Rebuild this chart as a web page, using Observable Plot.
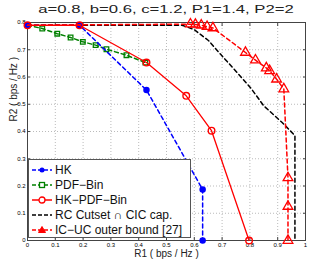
<!DOCTYPE html>
<html><head><meta charset="utf-8">
<script src="https://cdn.jsdelivr.net/npm/d3@7"></script>
<script src="https://cdn.jsdelivr.net/npm/@observablehq/plot@0.6"></script>
<style>
body{margin:0;background:#fff;font-family:"Liberation Sans",Arial,sans-serif;}
#wrap{position:relative;width:310px;height:263px;}
#title{position:absolute;left:66px;top:3px;width:200px;text-align:center;font-size:11.5px;color:#222;white-space:nowrap;transform:scaleX(1.45);transform-origin:center;}
#legend{position:absolute;left:28px;top:159px;width:163px;height:79px;background:#fff;border:1px solid #555;box-sizing:border-box;font-size:12px;color:#111;}
#legend .row{position:absolute;left:3px;height:14px;display:flex;align-items:center;}
#legend svg{display:block;}
#legend span{margin-left:2px;white-space:nowrap;}
</style></head><body>
<div id="wrap"><div id="chart"></div><div id="title"></div><div id="legend"></div></div>
<script>
const title = "a=0.8, b=0.6, c=1.2, P1=1.4, P2=2";
const xLabel = "R1 ( bps / Hz )";
const yLabel = "R2 ( bps / Hz )";
const xTicks = [0,0.1,0.2,0.3,0.4,0.5,0.6,0.7,0.8,0.9,1];
const yTicks = [0,0.1,0.2,0.3,0.4,0.5,0.6,0.7,0.8];

const hkR1 = [0, 0.187, 0.428, 0.630, 0.630];
const hkR2 = [0.790, 0.790, 0.552, 0.187, 0];

const pdfR1 = [0, 0.053, 0.107, 0.155, 0.199, 0.245, 0.284, 0.356, 0.424];
const pdfR2 = [0.790, 0.778, 0.759, 0.745, 0.729, 0.717, 0.702, 0.680, 0.653];

const hkpdfR1 = [0, 0.187, 0.428, 0.571, 0.662, 0.797];
const hkpdfR2 = [0.790, 0.790, 0.653, 0.531, 0.403, 0];

const rcR1 = [0, 0.556, 0.598, 0.652, 0.694, 0.748, 0.802, 0.850, 0.916, 0.962, 0.962];
const rcR2 = [0.790, 0.790, 0.775, 0.733, 0.684, 0.623, 0.561, 0.494, 0.433, 0.385, 0];

const icR1 = [0, 0.586, 0.604, 0.625, 0.646, 0.667, 0.784, 0.820, 0.859, 0.871, 0.896, 0.922, 0.937, 0.937, 0.937];
const icR2 = [0.790, 0.794, 0.793, 0.790, 0.785, 0.780, 0.690, 0.662, 0.633, 0.623, 0.592, 0.556, 0.230, 0.125, 0];
const icMarked = [false, true, true, true, true, true, true, true, true, true, true, true, true, true, true];

const names = ["HK", "PDF\u2212Bin", "HK\u2212PDF\u2212Bin", "RC Cutset \u2229 CIC cap.", "IC\u2212UC outer bound [27]"];

const zip = (a, b) => a.map((x, i) => ({x, y: b[i], i}));
const hk = zip(hkR1, hkR2), pdf = zip(pdfR1, pdfR2), hkpdf = zip(hkpdfR1, hkpdfR2), rc = zip(rcR1, rcR2), ic = zip(icR1, icR2);

const fmt = d => d === 0 ? "0" : d === 1 ? "1" : String(d);
const dash = "4,3";

const chart = Plot.plot({
  width: 310, height: 263,
  marginLeft: 27, marginRight: 5, marginTop: 22, marginBottom: 23,
  style: {fontFamily: "'Liberation Sans', Arial, sans-serif", background: "#fff", overflow: "visible"},
  x: {domain: [0, 1]},
  y: {domain: [0, 0.8]},
  marks: [
    Plot.gridX(xTicks, {stroke: "#bbb", strokeOpacity: 1, strokeDasharray: "1,2"}),
    Plot.gridY(yTicks, {stroke: "#bbb", strokeOpacity: 1, strokeDasharray: "1,2"}),
    Plot.axisX({ticks: xTicks, tickFormat: fmt, tickSize: -3, tickPadding: 5, fontSize: 6, label: null, stroke: "#444"}),
    Plot.axisX({ticks: xTicks, anchor: "top", tickFormat: () => "", tickSize: -3, label: null, stroke: "#444"}),
    Plot.axisY({ticks: yTicks, tickFormat: fmt, tickSize: -3, tickPadding: 5, fontSize: 6, label: null, stroke: "#444"}),
    Plot.axisY({ticks: yTicks, anchor: "right", tickFormat: () => "", tickSize: -3, label: null, stroke: "#444"}),
    Plot.frame({stroke: "#444"}),
    Plot.line(rc, {x: "x", y: "y", stroke: "black", strokeWidth: 1.5, strokeDasharray: dash}),
    Plot.line(pdf, {x: "x", y: "y", stroke: "#008000", strokeWidth: 1.5, strokeDasharray: dash}),
    Plot.dot(pdf.slice(1), {x: "x", y: "y", symbol: "square", r: 2.6, stroke: "#008000", strokeWidth: 1.3, fill: "none"}),
    Plot.line(hk, {x: "x", y: "y", stroke: "#0000ff", strokeWidth: 1.5, strokeDasharray: dash}),
    Plot.dot(hk, {x: "x", y: "y", r: 2.5, fill: "#0000ff", stroke: "#0000ff"}),
    Plot.line(hkpdf, {x: "x", y: "y", stroke: "#ff0000", strokeWidth: 1.3}),
    Plot.dot(hkpdf, {x: "x", y: "y", r: 3.3, stroke: "#ff0000", strokeWidth: 1.4, fill: "none"}),
    Plot.line(ic, {x: "x", y: "y", stroke: "#ff0000", strokeWidth: 1.5, strokeDasharray: dash}),
    Plot.dot(ic.filter(d => icMarked[d.i]), {x: "x", y: "y", symbol: "triangle", r: 3.6, stroke: "#ff0000", strokeWidth: 1.3, fill: "none"}),
    Plot.text([xLabel], {frameAnchor: "bottom", dy: 16, fontSize: 10, fill: "#222"}),
    Plot.text([yLabel], {frameAnchor: "left", dx: -14, dy: -10, rotate: -90, fontSize: 10, fill: "#222"})
  ]
});
document.getElementById("chart").appendChild(chart);
document.getElementById("title").textContent = title;

const styles = [
  {c: "#0000ff", d: dash, m: "dot"},
  {c: "#008000", d: dash, m: "square"},
  {c: "#ff0000", d: null, m: "circle"},
  {c: "#000000", d: dash, m: null},
  {c: "#ff0000", d: dash, m: "triangle"}
];
const leg = document.getElementById("legend");
names.forEach((n, i) => {
  const s = styles[i];
  let mk = "";
  if (s.m === "dot") mk = `<circle cx="10" cy="7" r="2.5" fill="${s.c}"/>`;
  if (s.m === "square") mk = `<rect x="7.5" y="4.5" width="5" height="5" fill="#fff" stroke="${s.c}" stroke-width="1.3"/>`;
  if (s.m === "circle") mk = `<circle cx="10" cy="7" r="3" fill="#fff" stroke="${s.c}" stroke-width="1.3"/>`;
  if (s.m === "triangle") mk = `<path d="M10,3.5L13.5,9.5L6.5,9.5Z" fill="${s.c}" stroke="${s.c}"/>`;
  const row = document.createElement("div");
  row.className = "row";
  row.style.top = (2.5 + i * 15.1) + "px";
  row.innerHTML = `<svg width="21" height="14"><line x1="0" x2="20" y1="7" y2="7" stroke="${s.c}" stroke-width="1.5" ${s.d ? `stroke-dasharray="4,2"` : ""}/>${mk}</svg><span>${n}</span>`;
  leg.appendChild(row);
});
</script>
</body></html>
